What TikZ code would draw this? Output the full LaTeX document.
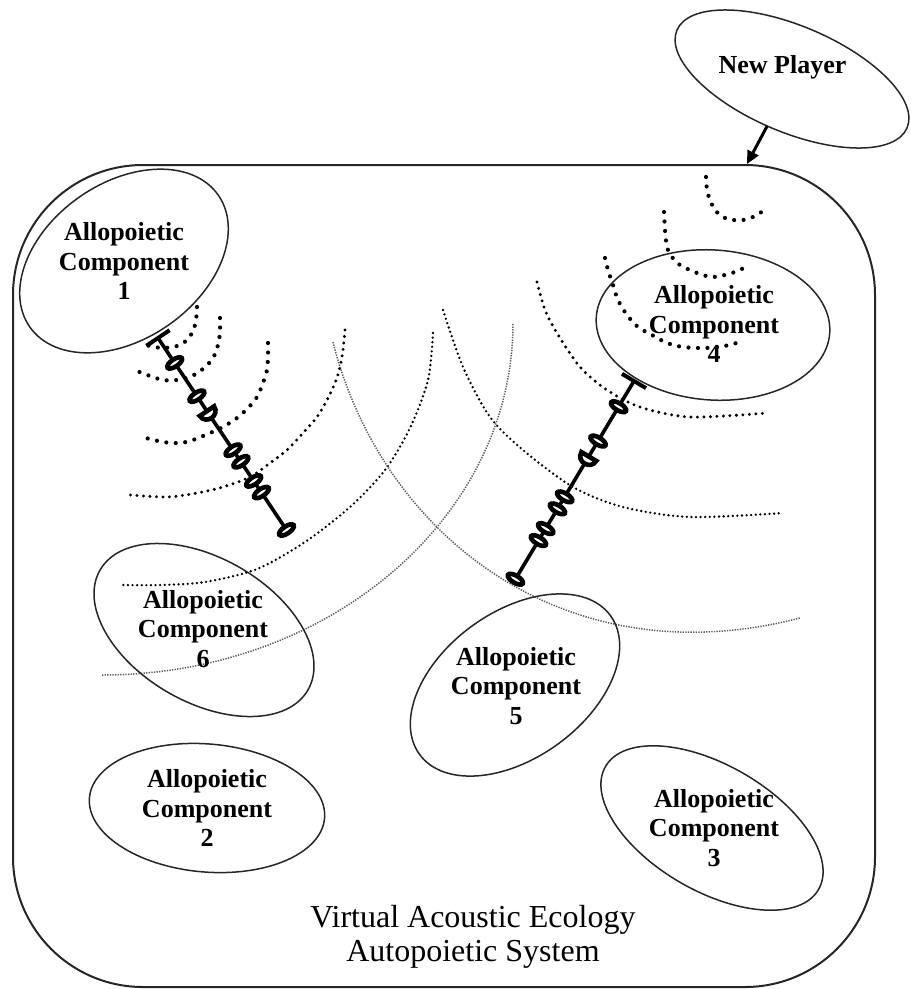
\documentclass[tikz,border=0pt]{standalone}
\usepackage{fontspec}
\setmainfont{Liberation Serif}
\usetikzlibrary{arrows.meta,shapes.geometric}
\newcommand\drawglyphchain{%
  \draw[line width=3.6pt] (0,0) -- (231,0);
  \draw[line width=4pt] (0,-14) -- (0,14);
  \foreach \p in {30,70,135,149,172,186,231}
    \draw[ring] (\p,0) ellipse[x radius=3.6, y radius=8.6];
  \draw[ring] (88,-8.6) -- (88,8.6) .. controls (99,8.6) and (99,-8.6) .. (88,-8.6) -- cycle;
}
\begin{document}
\begin{tikzpicture}[x=1pt,y=1pt,
  comp/.style={draw=black!85, line width=1.5pt, ellipse, inner sep=0pt, outer sep=0pt},
  lbl/.style={align=center, font=\fontsize{26}{29.5}\selectfont\bfseries},
  heavydots/.style={line width=4.2pt, line cap=round, dash pattern=on 0pt off 9.5pt},
  meddots/.style={line width=3.3pt, line cap=round, dash pattern=on 0pt off 6.5pt},
  finedots/.style={line width=2.6pt, line cap=round, dash pattern=on 0pt off 4.6pt},
  lightdots/.style={line width=1.5pt, draw=black!65, dash pattern=on 1.3pt off 1.3pt},
  ring/.style={line width=4.6pt, fill=white},
]
\useasboundingbox (0,0) rectangle (911,-989);

% outer system
\node[draw=black!85, line width=2pt, rounded corners=130pt, minimum width=862pt, minimum height=822pt, inner sep=0pt] (sys) at (444,-576) {};
\coordinate (entry) at (747,-164);

% waves around component 1
\draw[heavydots] plot[smooth] coordinates {(197,-307) (196,-320) (193,-331) (187,-340) (177,-346) (162,-348) (146,-345)};
\draw[heavydots] plot[smooth] coordinates {(220,-318) (220,-332) (218,-345) (213,-358) (204,-368) (192,-376) (177,-380) (163,-380) (150,-376) (137,-371)};
\draw[heavydots] plot[smooth] coordinates {(268,-343) (268,-357) (267,-370) (263,-383) (257,-397) (248,-408) (237,-418) (223,-427) (210,-433) (193,-440) (180,-443) (163,-442) (142,-437)};
\draw[meddots] plot[smooth] coordinates {(345,-330) (343,-350) (340,-367) (335,-383) (327,-400) (317,-417) (303,-433) (287,-450) (270,-463) (250,-477) (223,-487) (197,-493) (167,-497) (130,-495)};
\draw[finedots] plot[smooth] coordinates {(433,-333) (428,-380) (410,-428) (385,-470) (350,-507) (305,-542) (257,-569) (205,-582) (160,-585) (123,-585)};
\draw[lightdots] (102,-675) arc[start angle=-90, end angle=0, x radius=411, y radius=352];

% waves around component 4
\draw[heavydots] plot[smooth] coordinates {(706,-177) (707,-190) (710,-200) (715,-210) (723,-217) (733,-220) (743,-220) (753,-217) (763,-211)};
\draw[heavydots] plot[smooth] coordinates {(664,-212) (665,-230) (667,-247) (672,-257) (680,-265) (697,-273) (713,-277) (732,-273) (748,-266)};
\draw[heavydots] plot[smooth] coordinates {(605,-258) (608,-270) (613,-285) (618,-300) (627,-315) (638,-327) (652,-335) (667,-343) (683,-347) (702,-348) (720,-347) (740,-342)};
\draw[meddots] plot[smooth] coordinates {(537,-282) (545,-310) (557,-333) (580,-367) (607,-390) (640,-407) (690,-417) (767,-413)};
\draw[finedots] plot[smooth] coordinates {(443,-310) (463,-367) (490,-417) (523,-450) (573,-487) (623,-507) (690,-517) (783,-513)};
\draw[lightdots] (333,-342) .. controls (380,-530) and (560,-680) .. (800,-618);

% components
\node[comp, minimum width=230pt, minimum height=156pt, rotate=35] (c1) at (124,-261) {};
\node[comp, minimum width=234pt, minimum height=150pt, rotate=-4] (c4) at (713,-325) {};
\node[comp, minimum width=240pt, minimum height=144pt, rotate=-30] (c6) at (204,-630) {};
\node[comp, minimum width=236pt, minimum height=146pt, rotate=36] (c5) at (515,-685) {};
\node[comp, minimum width=236pt, minimum height=128pt, rotate=-5] (c2) at (207,-808) {};
\node[comp, minimum width=246pt, minimum height=126pt, rotate=-30] (c3) at (712,-828) {};
\node[comp, minimum width=250pt, minimum height=106pt, rotate=-23] (np) at (792,-79) {};

% chains
\begin{scope}[shift={(158,-338)}, rotate=-56.2]
  \drawglyphchain
\end{scope}
\begin{scope}[shift={(634,-381)}, rotate=-120.9]
  \drawglyphchain
\end{scope}

% labels
\node[lbl] (t1) at (124,-261) {Allopoietic\\Component\\1};
\node[lbl] (t4) at (714,-324) {Allopoietic\\Component\\4};
\node[lbl] (t6) at (203,-629) {Allopoietic\\Component\\6};
\node[lbl] (t5) at (516,-686) {Allopoietic\\Component\\5};
\node[lbl] (t2) at (207,-808) {Allopoietic\\Component\\2};
\node[lbl] (t3) at (714,-828) {Allopoietic\\Component\\3};
\node[lbl, anchor=base] (tnp) at (782.5,-73) {New Player};
\node[align=center, font=\fontsize{32}{34}\selectfont] (tsys) at (473,-937) {Virtual Acoustic Ecology\\Autopoietic System};

% arrow
\draw[line width=3pt, -{Triangle[length=13pt, width=12pt]}] (np) -- (entry);
\end{tikzpicture}
\end{document}
